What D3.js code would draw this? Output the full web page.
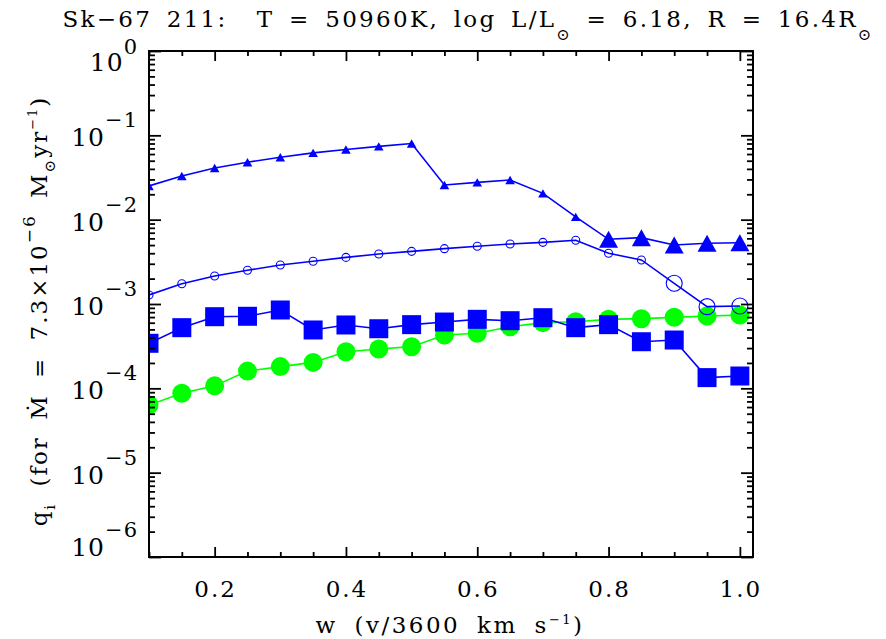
<!DOCTYPE html>
<html><head><meta charset="utf-8">
<script src="https://cdn.jsdelivr.net/npm/d3@7/dist/d3.min.js"></script>
<style>
html,body{margin:0;padding:0;background:#fff;}
text{font-family:"DejaVu Serif",serif;fill:#000;white-space:pre;}
</style></head>
<body><svg id="chart" width="886" height="639"></svg>
<script>
// ---- data ----
const w = [0.10,0.15,0.20,0.25,0.30,0.35,0.40,0.45,0.50,0.55,0.60,0.65,0.70,0.75,0.80,0.85,0.90,0.95,1.00];
const qTriangle = [0.0251,0.0330,0.0410,0.0480,0.0550,0.0620,0.0680,0.0740,0.0800,0.0258,0.0277,0.0295,0.0205,0.0108,0.00585,0.00612,0.00501,0.00525,0.00533];
const qOpenCircle = [0.00128,0.00174,0.00215,0.00251,0.00290,0.00321,0.00357,0.00391,0.00421,0.00453,0.00483,0.00514,0.00538,0.00569,0.00399,0.00333,0.00176,0.00093,0.000946];
const qSquare = [0.000342,0.000524,0.000707,0.000715,0.000849,0.000492,0.000564,0.000509,0.000569,0.000611,0.000658,0.000634,0.000688,0.000524,0.000569,0.000357,0.000374,0.000134,0.000140];
const qGreen = [6.34e-5,8.73e-5,1.07e-4,1.60e-4,1.81e-4,2.03e-4,2.72e-4,2.93e-4,3.12e-4,4.29e-4,4.49e-4,5.38e-4,6.01e-4,6.17e-4,6.58e-4,6.70e-4,6.95e-4,7.21e-4,7.39e-4];
const xTickLabels = ["0.2","0.4","0.6","0.8","1.0"];
const yExponents = [0,-1,-2,-3,-4,-5,-6];

const bigTriangleFrom = 0.8, bigCircleFrom = 0.9;

const svg = d3.select("#chart");
const L=149,R=753,T=51,B=557;
const x = d3.scaleLinear().domain([0.1,1.02]).range([L,R]);
const y = d3.scaleLog().domain([1e-6,1]).range([B,T]);

const blue="#0000ff", green="#00ff00";

svg.append("clipPath").attr("id","clip").append("rect")
  .attr("x",L).attr("y",T).attr("width",R-L).attr("height",B-T);
const plot = svg.append("g").attr("clip-path","url(#clip)");

const line = d3.line().x(d=>x(d[0])).y(d=>y(d[1]));
const zip = arr => w.map((v,i)=>[v,arr[i]]);

// green filled circles
plot.append("path").datum(zip(qGreen)).attr("d",line).attr("fill","none").attr("stroke",green).attr("stroke-width",1.6);
plot.selectAll(".gc").data(zip(qGreen)).enter().append("circle")
  .attr("cx",d=>x(d[0])).attr("cy",d=>y(d[1])).attr("r",9.5).attr("fill",green);

// blue squares
plot.append("path").datum(zip(qSquare)).attr("d",line).attr("fill","none").attr("stroke",blue).attr("stroke-width",1.6);
plot.selectAll(".sq").data(zip(qSquare)).enter().append("rect")
  .attr("x",d=>x(d[0])-9.5).attr("y",d=>y(d[1])-9.5).attr("width",19).attr("height",19).attr("fill",blue);

// open circles
plot.append("path").datum(zip(qOpenCircle)).attr("d",line).attr("fill","none").attr("stroke",blue).attr("stroke-width",1.6);
plot.selectAll(".oc").data(zip(qOpenCircle)).enter().append("circle")
  .attr("cx",d=>x(d[0])).attr("cy",d=>y(d[1])).attr("r",d=>d[0]>=bigCircleFrom-1e-9?8:4)
  .attr("fill","none").attr("stroke",blue).attr("stroke-width",1.1);

// triangles
plot.append("path").datum(zip(qTriangle)).attr("d",line).attr("fill","none").attr("stroke",blue).attr("stroke-width",1.6);
plot.selectAll(".tr").data(zip(qTriangle)).enter().append("path")
  .attr("d",d=>{
    const big = d[0]>=bigTriangleFrom-1e-9;
    const hw = big?9.5:4.8, hh = big?8.5:4.2;
    const cx=x(d[0]), cy=y(d[1]);
    return `M${cx},${cy-hh}L${cx+hw},${cy+hh}L${cx-hw},${cy+hh}Z`;
  }).attr("fill",blue);

// ---- axes ----
const ax = svg.append("g");
const allY = y.ticks();
const majorY = allY.filter(v=>Math.abs(Math.log10(v)-Math.round(Math.log10(v)))<1e-9);
const minorY = allY.filter(v=>!majorY.includes(v));
const majorX = [0.2,0.4,0.6,0.8,1.0];
const minorX = d3.range(0.1,1.0201,0.05).map(v=>+v.toFixed(2)).filter(v=>!majorX.some(m=>Math.abs(m-v)<1e-9));

function styleAxis(g){ g.select(".domain").remove(); g.selectAll("line").attr("stroke","#000").attr("stroke-width",1.8); g.selectAll("text").remove(); }

ax.append("g").attr("transform",`translate(${L},0)`).call(d3.axisLeft(y).tickValues(majorY).tickSize(-12)).call(styleAxis);
ax.append("g").attr("transform",`translate(${L},0)`).call(d3.axisLeft(y).tickValues(minorY).tickSize(-6)).call(styleAxis);
ax.append("g").attr("transform",`translate(${R},0)`).call(d3.axisRight(y).tickValues(majorY).tickSize(-12)).call(styleAxis);
ax.append("g").attr("transform",`translate(${R},0)`).call(d3.axisRight(y).tickValues(minorY).tickSize(-6)).call(styleAxis);
ax.append("g").attr("transform",`translate(0,${B})`).call(d3.axisBottom(x).tickValues(majorX).tickSize(-10)).call(styleAxis);
ax.append("g").attr("transform",`translate(0,${B})`).call(d3.axisBottom(x).tickValues(minorX).tickSize(-5)).call(styleAxis);
ax.append("g").attr("transform",`translate(0,${T})`).call(d3.axisTop(x).tickValues(majorX).tickSize(-10)).call(styleAxis);
ax.append("g").attr("transform",`translate(0,${T})`).call(d3.axisTop(x).tickValues(minorX).tickSize(-5)).call(styleAxis);

ax.append("rect").attr("x",L).attr("y",T).attr("width",R-L).attr("height",B-T)
  .attr("fill","none").attr("stroke","#000").attr("stroke-width",2);

// x tick labels
svg.selectAll(".xl").data(majorX).enter().append("text")
  .attr("x",d=>x(d)+1).attr("y",B+40).attr("text-anchor","middle").attr("font-size",23)
  .attr("letter-spacing",2)
  .text((d,i)=>xTickLabels[i]);

// y tick labels
yExponents.forEach(e=>{
  const ty = y(Math.pow(10,e));
  let base = ty+11;
  if(e===0) base = 71;
  if(e===-6) base = 556;
  const t = svg.append("text").attr("x",138).attr("y",base).attr("text-anchor","end").attr("font-size",25).attr("letter-spacing",1);
  t.append("tspan").text("10");
  t.append("tspan").attr("dy",e===0?-17:-19).attr("font-size",21).text(e===0?"0":"\u2212"+Math.abs(e));
});

// title
const title = svg.append("text").attr("x",468).attr("y",27).attr("text-anchor","middle").attr("font-size",23)
  .attr("letter-spacing",2.3).attr("word-spacing",5);
title.append("tspan").text("Sk\u221267 211:  T = 50960K, log L/L");
title.append("tspan").attr("dy",13).attr("font-size",16).text("\u2299");
title.append("tspan").attr("dy",-13).text(" = 6.18, R = 16.4R");
title.append("tspan").attr("dy",13).attr("font-size",16).text("\u2299");

// x label
const xl = svg.append("text").attr("x",450).attr("y",633).attr("text-anchor","middle").attr("font-size",23)
  .attr("letter-spacing",2.5).attr("word-spacing",7);
xl.append("tspan").text("w (v/3600 km s");
xl.append("tspan").attr("dy",-9).attr("font-size",13).text("\u22121");
xl.append("tspan").attr("dy",9).text(")");

// y label
const yl = svg.append("text").attr("transform","translate(47,311) rotate(-90)").attr("text-anchor","middle").attr("font-size",23)
  .attr("letter-spacing",2).attr("word-spacing",7);
yl.append("tspan").text("q");
yl.append("tspan").attr("dy",8).attr("font-size",15).text("i");
yl.append("tspan").attr("dy",-8).text(" (for \u1E40 = 7.3\u00D710");
yl.append("tspan").attr("dy",-12).attr("font-size",17).text("\u22126");
yl.append("tspan").attr("dy",12).text(" M");
yl.append("tspan").attr("dy",8).attr("font-size",15).text("\u2299");
yl.append("tspan").attr("dy",-8).text("yr");
yl.append("tspan").attr("dy",-10).attr("font-size",13).text("\u22121");
yl.append("tspan").attr("dy",10).text(")");
</script></body></html>
